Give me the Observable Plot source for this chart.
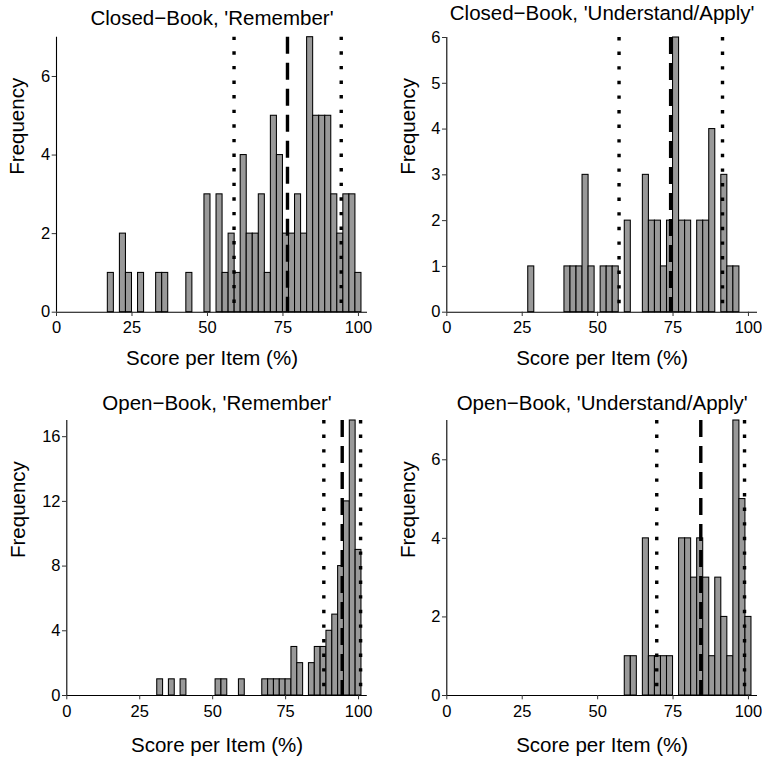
<!DOCTYPE html>
<html>
<head>
<meta charset="utf-8">
<script src="https://cdn.jsdelivr.net/npm/d3@7"></script>
<script src="https://cdn.jsdelivr.net/npm/@observablehq/plot@0.6"></script>
<style>
  html, body { margin: 0; padding: 0; background: white; }
  #wrap { position: relative; width: 762px; height: 759px; background: white; overflow: hidden; }
  #wrap > div { position: absolute; }
</style>
</head>
<body>
<div id="wrap">
  <div id="p1" style="left:0;top:0"></div>
  <div id="p2" style="left:381px;top:0"></div>
  <div id="p3" style="left:0;top:380px"></div>
  <div id="p4" style="left:381px;top:380px"></div>
</div>
<script>
// ---- data (bin centres, bin width 2; counts per bin) ----
const titles = ["Closed\u2212Book, 'Remember'", "Closed\u2212Book, 'Understand/Apply'",
                "Open\u2212Book, 'Remember'", "Open\u2212Book, 'Understand/Apply'"];
const xLabel = "Score per Item (%)";
const yLabel = "Frequency";
const xTicks = [0, 25, 50, 75, 100];

const cbRememberBins   = [18,22,24,28,34,36,44,50,54,56,58,60,62,64,66,68,70,72,74,76,78,80,82,84,86,88,90,92,94,96,98,100];
const cbRememberCounts = [1,2,1,1,1,1,1,3,3,1,2,1,4,2,2,3,1,5,4,2,2,3,2,7,5,5,5,3,2,3,3,1];

const cbUnderstandBins   = [28,40,42,44,46,48,52,54,56,60,66,68,70,72,74,76,78,80,84,86,88,92,94,96];
const cbUnderstandCounts = [1,1,1,1,3,1,1,1,1,2,3,2,2,1,2,6,2,2,2,2,4,3,1,1];

const obRememberBins   = [32,36,40,52,54,60,68,70,72,74,76,78,80,84,86,88,90,92,94,96,98,100];
const obRememberCounts = [1,1,1,1,1,1,1,1,1,1,1,3,2,2,3,3,4,5,8,12,17,9];

const obUnderstandBins   = [60,62,66,68,70,72,74,78,80,82,84,86,88,90,92,94,96,98,100];
const obUnderstandCounts = [1,1,4,1,1,1,1,4,4,3,4,3,1,3,2,1,7,5,2];

// mean (dashed) and mean -/+ SD (dotted)
const meanLines = [76.5, 74.2, 94.4, 84.2];
const sdLow     = [58.8, 57.1, 88.1, 69.6];
const sdHigh    = [94.3, 91.4, 100.7, 98.7];

const yMax   = [7, 6, 17, 7];
const yTicks = [[0,2,4,6], [0,1,2,3,4,5,6], [0,4,8,12,16], [0,2,4,6]];
const binWidth = 2;

// ---- layout ----
const layouts = [
  {id:"p1", height:380, ml:56,   mr:14,  mt:36.7, mb:68.3, titleDy:-12.7, xlabDy:52.6, ylabDx:-32.5},
  {id:"p2", height:380, ml:65.3, mr:5,   mt:37,   mb:68.3, titleDy:-18,   xlabDy:52.6, ylabDx:-32.0},
  {id:"p3", height:379, ml:66.3, mr:14.2,mt:40,   mb:64,   titleDy:-10.7, xlabDy:56.7, ylabDx:-42.3},
  {id:"p4", height:379, ml:65.3, mr:5,   mt:40,   mb:64,   titleDy:-10.7, xlabDy:56.7, ylabDx:-32.0}
];
const binsList = [cbRememberBins, cbUnderstandBins, obRememberBins, obUnderstandBins];
const countsList = [cbRememberCounts, cbUnderstandCounts, obRememberCounts, obUnderstandCounts];

const font = "'Liberation Sans', Arial, Helvetica, sans-serif";
const intFmt = d3.format("d");

layouts.forEach((L, i) => {
  const data = binsList[i].map((c, j) => ({c, n: countsList[i][j]}));
  const chart = Plot.plot({
    width: 381, height: L.height,
    marginLeft: L.ml, marginRight: L.mr, marginTop: L.mt, marginBottom: L.mb,
    style: {fontFamily: font, background: "white", color: "black", overflow: "visible"},
    x: {domain: [0, 103]},
    y: {domain: [0, yMax[i]]},
    marks: [
      Plot.rectY(data, {x1: d => d.c - binWidth/2, x2: d => d.c + binWidth/2, y: "n",
                        fill: "#999999", stroke: "black", strokeWidth: 1.05}),
      Plot.ruleX([sdLow[i], sdHigh[i]], {stroke: "black", strokeWidth: 3.4, strokeDasharray: "3.4,11.2"}),
      Plot.ruleX([meanLines[i]], {stroke: "black", strokeWidth: 3.4, strokeDasharray: "17,9"}),
      Plot.ruleY([0], {stroke: "black", strokeWidth: 1.1}),
      Plot.ruleX([0], {stroke: "black", strokeWidth: 1.1}),
      Plot.axisX({ticks: xTicks, tickFormat: intFmt, tickSize: 4.3, tickPadding: 5, fontSize: 16.5, label: null, stroke: "#333"}),
      Plot.axisY({ticks: yTicks[i], tickFormat: intFmt, tickSize: 4.3, tickPadding: 2, fontSize: 16.5, label: null, stroke: "#333"}),
      Plot.text([titles[i]], {text: d => d, frameAnchor: "top", lineAnchor: "bottom", dy: L.titleDy, fontSize: 20.5}),
      Plot.text([xLabel], {text: d => d, frameAnchor: "bottom", lineAnchor: "bottom", dy: L.xlabDy, fontSize: 20.5}),
      Plot.text([yLabel], {text: d => d, frameAnchor: "left", lineAnchor: "bottom", rotate: -90, dx: L.ylabDx, fontSize: 20.5})
    ]
  });
  document.getElementById(L.id).appendChild(chart);
});
</script>
</body>
</html>
